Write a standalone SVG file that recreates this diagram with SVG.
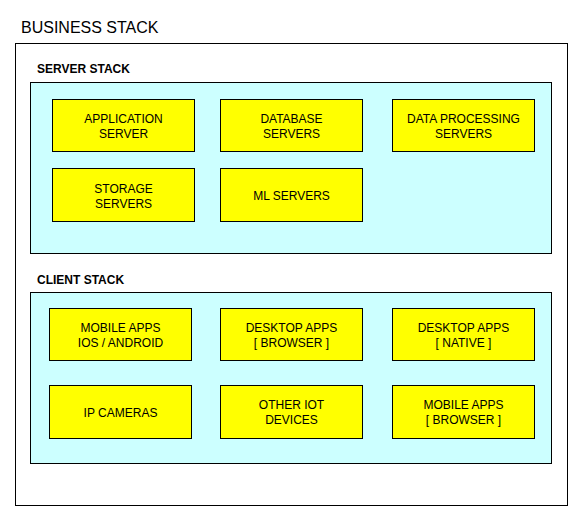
<svg xmlns="http://www.w3.org/2000/svg" width="582" height="521" viewBox="0 0 582 521">
<style>
  text { font-family: "Liberation Sans", Arial, sans-serif; fill: #000; }
  .node rect { fill: #ffff00; stroke: #000; stroke-width: 1; }
  .node text { font-size: 12px; text-anchor: middle; }
  .panel { fill: #ccffff; stroke: #000; stroke-width: 1; }
  .head { font-size: 12px; font-weight: bold; }
</style>
<rect width="582" height="521" fill="#fff"/>
<g id="business-stack">
  <text x="21" y="33" font-size="16">BUSINESS STACK</text>
  <rect x="15.5" y="43.5" width="552" height="462" fill="#fff" stroke="#000"/>
</g>
<g id="server-stack">
  <text class="head" x="37" y="73">SERVER STACK</text>
  <rect class="panel" x="30.5" y="82.5" width="521" height="171"/>
</g>
<g id="application-server" class="node">
  <rect x="52.5" y="99.5" width="142" height="52"/>
  <text x="123.5" y="123">APPLICATION</text>
  <text x="123.5" y="138">SERVER</text>
</g>
<g id="database-servers" class="node">
  <rect x="220.5" y="99.5" width="142" height="52"/>
  <text x="291.5" y="123">DATABASE</text>
  <text x="291.5" y="138">SERVERS</text>
</g>
<g id="data-processing-servers" class="node">
  <rect x="392.5" y="99.5" width="142" height="52"/>
  <text x="463.5" y="123">DATA PROCESSING</text>
  <text x="463.5" y="138">SERVERS</text>
</g>
<g id="storage-servers" class="node">
  <rect x="52.5" y="168.5" width="142" height="53"/>
  <text x="123.5" y="192.5">STORAGE</text>
  <text x="123.5" y="207.5">SERVERS</text>
</g>
<g id="ml-servers" class="node">
  <rect x="220.5" y="168.5" width="142" height="53"/>
  <text x="291.5" y="200">ML SERVERS</text>
</g>
<g id="client-stack">
  <text class="head" x="37" y="284">CLIENT STACK</text>
  <rect class="panel" x="30.5" y="292.5" width="521" height="171"/>
</g>
<g id="mobile-apps-native" class="node">
  <rect x="49.5" y="308.5" width="142" height="52"/>
  <text x="120.5" y="332">MOBILE APPS</text>
  <text x="120.5" y="347">IOS / ANDROID</text>
</g>
<g id="desktop-apps-browser" class="node">
  <rect x="220.5" y="308.5" width="142" height="52"/>
  <text x="291.5" y="332">DESKTOP APPS</text>
  <text x="291.5" y="347">[ BROWSER ]</text>
</g>
<g id="desktop-apps-native" class="node">
  <rect x="392.5" y="308.5" width="142" height="52"/>
  <text x="463.5" y="332">DESKTOP APPS</text>
  <text x="463.5" y="347">[ NATIVE ]</text>
</g>
<g id="ip-cameras" class="node">
  <rect x="49.5" y="385.5" width="142" height="53"/>
  <text x="120.5" y="417">IP CAMERAS</text>
</g>
<g id="other-iot-devices" class="node">
  <rect x="220.5" y="385.5" width="142" height="53"/>
  <text x="291.5" y="409">OTHER IOT</text>
  <text x="291.5" y="424">DEVICES</text>
</g>
<g id="mobile-apps-browser" class="node">
  <rect x="392.5" y="385.5" width="142" height="53"/>
  <text x="463.5" y="409">MOBILE APPS</text>
  <text x="463.5" y="424">[ BROWSER ]</text>
</g>
<g id="connectors"></g>
</svg>
